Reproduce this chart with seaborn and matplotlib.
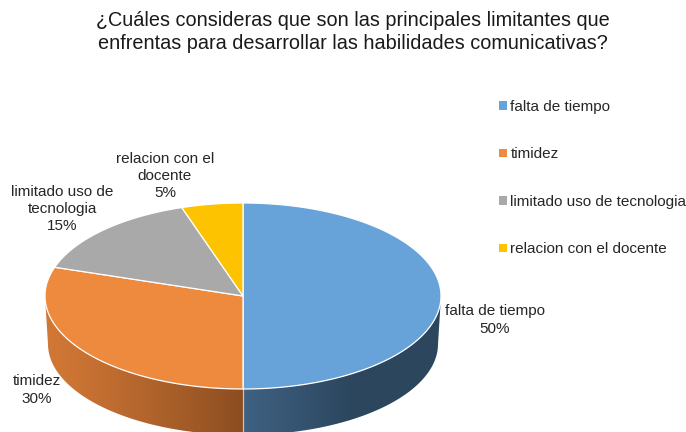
import numpy as np
import seaborn as sns
import matplotlib.pyplot as plt
from matplotlib.patches import Polygon, Patch
from matplotlib.colors import to_rgb

sns.set_theme(style="white")
plt.rcParams['font.family'] = ['Liberation Sans', 'DejaVu Sans']

categories = ['falta de tiempo', 'timidez', 'limitado uso de tecnologia', 'relacion con el docente']
values = [50, 30, 15, 5]
slice_labels = ['falta de tiempo\n50%', 'timidez\n30%', 'limitado uso de\ntecnologia\n15%',
                'relacion con el\ndocente\n5%']
title = ('¿Cuáles consideras que son las principales limitantes que\n'
         'enfrentas para desarrollar las habilidades comunicativas?')

colors = sns.color_palette(['#67a3d9', '#ed8a3e', '#a9a9a9', '#fdc200'])
# wall shading (light end, dark end) for the visible front wall
side_cols = {0: ('#3f6283', '#2c465e'), 1: ('#d27836', '#8b4d20')}

# geometry of the tilted disc, in pixel units
cx, cy, rx, ry = 243, 296, 198, 93
cxb, cyb, rxb, ryb = 243, 344, 195, 91

fig = plt.figure(figsize=(6.86, 4.32), dpi=100)
ax = fig.add_axes([0, 0, 1, 1])
ax.set_xlim(0, 686)
ax.set_ylim(432, 0)
ax.axis('off')


def top_pt(t):
    return cx + rx * np.cos(t), cy - ry * np.sin(t)


def bot_pt(t):
    return cxb + rxb * np.cos(t), cyb - ryb * np.sin(t)


# slice angles: start at 12 o'clock, go clockwise
fr = np.array(values) / sum(values)
ends = np.deg2rad(90 - 360 * np.cumsum(fr))
starts = np.deg2rad(90 - 360 * np.concatenate([[0], np.cumsum(fr)[:-1]]))

# front wall (only the lower half of the disc is visible)
for i in range(len(values)):
    ts = np.linspace(ends[i], starts[i], 400)
    ts = ts[np.sin(ts) <= 1e-9]
    if len(ts) < 2:
        continue
    pts = [top_pt(t) for t in ts] + [bot_pt(t) for t in ts[::-1]]
    poly = Polygon(pts, closed=True, facecolor='none', edgecolor='none')
    ax.add_patch(poly)
    xs = np.array([p[0] for p in pts])
    ys = np.array([p[1] for p in pts])
    x0, x1 = xs.min() - 1, xs.max() + 1
    gx = np.linspace(x0, x1, 300)
    light = np.array(to_rgb(side_cols.get(i, (colors[i], colors[i]))[0]))
    dark = np.array(to_rgb(side_cols.get(i, (colors[i], colors[i]))[1]))
    if i == 1:
        f = np.clip((gx - x0) / (x1 - x0), 0, 1) ** 1.2
    else:
        f = np.clip((gx - x0) / 110, 0, 1)
    grad = light[None, :] + (dark - light)[None, :] * f[:, None]
    img = np.repeat(grad[None, :, :], 2, axis=0)
    im = ax.imshow(img, extent=(x0, x1, ys.max() + 1, ys.min() - 1), aspect='auto',
                   interpolation='bilinear', zorder=1)
    im.set_clip_path(poly)

# slice seam on the wall at 6 o'clock
for a in list(starts) + list(ends):
    if np.sin(a) < -0.999:
        xa, ya = top_pt(a)
        xb, yb = bot_pt(a)
        ax.plot([xa, xb], [ya, yb], color='#d9c4b0', lw=0.8, zorder=2)

# top face
for i in range(len(values)):
    ts = np.linspace(starts[i], ends[i], 200)
    pts = [(cx, cy)] + [top_pt(t) for t in ts]
    ax.add_patch(Polygon(pts, closed=True, facecolor=colors[i], edgecolor='white',
                         lw=0.9, zorder=3))

# data labels
label_pos = [(495, 320), (37, 390), (62, 209), (165, 176)]
for lab, (x, y) in zip(slice_labels, label_pos):
    ax.text(x, y, lab, ha='center', va='center', fontsize=11, color='#262626', linespacing=1.3)

ax.text(353, 32, title, ha='center', va='center', fontsize=14.3, color='#1a1a1a', linespacing=1.24)

handles = [Patch(facecolor=colors[i], edgecolor='none') for i in range(len(values))]
ax.legend(handles, categories, loc='upper left', bbox_to_anchor=(499 / 686, 1 - 100 / 432),
          frameon=False, fontsize=11, handlelength=0.5, handleheight=0.5,
          handletextpad=0.25, labelspacing=2.19, borderpad=0, borderaxespad=0,
          labelcolor='#262626')

fig.savefig('out.png', dpi=100)
